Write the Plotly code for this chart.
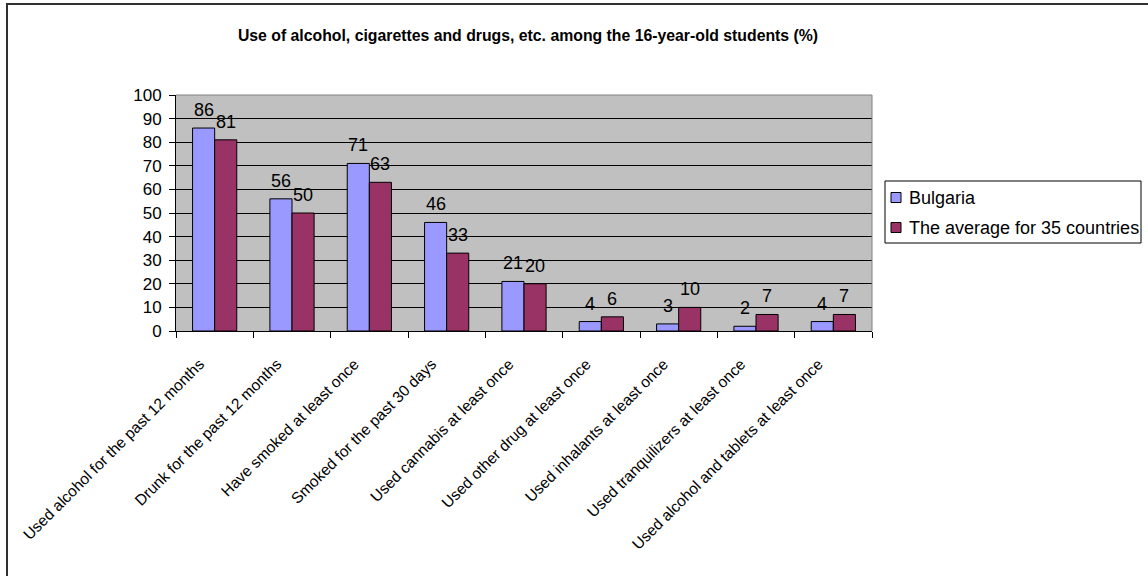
import plotly.graph_objects as go

categories = [
    "Used alcohol for the past 12 months",
    "Drunk for the past 12 months",
    "Have smoked at least once",
    "Smoked for the past 30 days",
    "Used cannabis at least once",
    "Used other drug at least once",
    "Used inhalants at least once",
    "Used tranquilizers at least once",
    "Used alcohol and tablets at least once",
]
bulgaria = [86, 56, 71, 46, 21, 4, 3, 2, 4]
average_35 = [81, 50, 63, 33, 20, 6, 10, 7, 7]
y_ticks = [0, 10, 20, 30, 40, 50, 60, 70, 80, 90, 100]

W, H = 1148, 576
ML, MR, MT, MB = 176, 276, 95, 245
PW, PH = W - ML - MR, H - MT - MB


def px_x(x):
    return (x - ML) / PW


def px_y(y):
    return (H - MB - y) / PH


FONT = "Liberation Sans, Arial, sans-serif"
COLORS = ["#9999FF", "#993366"]
NAMES = ["Bulgaria", "The average for 35 countries"]

fig = go.Figure()
for name, vals, col in zip(NAMES, [bulgaria, average_35], COLORS):
    fig.add_trace(go.Bar(
        name=name, x=categories, y=vals, showlegend=False,
        marker=dict(color=col, line=dict(color="black", width=1)),
    ))

# value labels above each bar
bar_w = PW / len(categories) / 3.5
for cat, b, a in zip(categories, bulgaria, average_35):
    for val, shift in ((b, -bar_w / 2), (a, bar_w / 2)):
        fig.add_annotation(
            x=cat, y=val, text=str(val), showarrow=False,
            xshift=shift, yshift=6, yanchor="bottom",
            font=dict(family=FONT, size=18, color="black"),
        )

# outer chart frame and plot-area border
fig.add_shape(type="rect", xref="paper", yref="paper",
              x0=px_x(7), x1=px_x(W + 40), y0=px_y(H + 40), y1=px_y(4),
              line=dict(color="#303030", width=2), layer="above")
fig.add_shape(type="line", xref="paper", yref="paper",
              x0=0, x1=1, y0=1, y1=1,
              line=dict(color="#808080", width=1), layer="above")
fig.add_shape(type="line", xref="paper", yref="paper",
              x0=1, x1=1, y0=0, y1=1,
              line=dict(color="#808080", width=1), layer="above")

# legend box with swatches
fig.add_shape(type="rect", xref="paper", yref="paper",
              x0=px_x(885), x1=px_x(1141), y0=px_y(243), y1=px_y(181),
              line=dict(color="black", width=1), fillcolor="white", layer="above")
for i, (name, col) in enumerate(zip(NAMES, COLORS)):
    cy = 197.5 + 30 * i
    fig.add_shape(type="rect", xref="paper", yref="paper",
                  x0=px_x(891), x1=px_x(901), y0=px_y(cy + 5), y1=px_y(cy - 5),
                  line=dict(color="black", width=1), fillcolor=col, layer="above")
    fig.add_annotation(xref="paper", yref="paper", x=px_x(907), y=px_y(cy),
                       xanchor="left", yanchor="middle", showarrow=False,
                       text=name, font=dict(family=FONT, size=18, color="black"))

fig.update_layout(
    width=W, height=H,
    margin=dict(l=ML, r=MR, t=MT, b=MB, autoexpand=False),
    paper_bgcolor="white",
    plot_bgcolor="#C0C0C0",
    barmode="group",
    bargap=1.5 / 3.5,
    bargroupgap=0,
    showlegend=False,
    font=dict(family=FONT, color="black"),
    title=dict(
        text="<b>Use of alcohol, cigarettes and drugs, etc. among the 16-year-old students (%)</b>",
        x=528 / W, xanchor="center", y=1 - 35 / H, yanchor="middle",
        font=dict(family=FONT, size=15.8, color="black"),
    ),
    xaxis=dict(
        type="category", tickangle=-45, automargin=False,
        tickson="boundaries", ticks="outside", ticklen=6, tickcolor="black",
        showline=True, linecolor="black", linewidth=1,
        showgrid=False,
        tickfont=dict(family=FONT, size=15.5, color="black"),
        ticklabelstandoff=17, ticklabelshift=-15,
    ),
    yaxis=dict(
        range=[0, 100], tickvals=y_ticks, automargin=False,
        ticks="outside", ticklen=6, tickcolor="black",
        showline=True, linecolor="black", linewidth=1,
        showgrid=True, gridcolor="black", gridwidth=1,
        zeroline=False,
        tickfont=dict(family=FONT, size=17, color="black"),
        ticklabelstandoff=4,
    ),
)

fig.write_html("out.html")
